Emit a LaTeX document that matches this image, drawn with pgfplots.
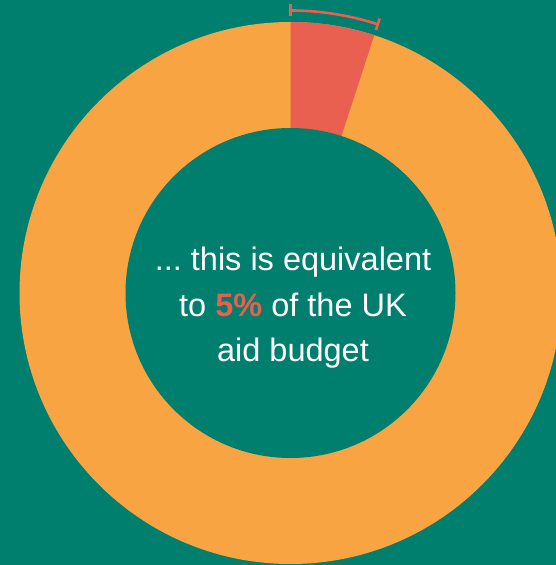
\documentclass[border=0pt]{standalone}
\usepackage{pgfplots}
\usepackage{pgfplotstable}
\pgfplotsset{compat=1.18}
\usepackage{fontspec}
\setmainfont{Liberation Sans}
\definecolor{bgteal}{HTML}{007F6F}
\definecolor{pieorange}{HTML}{F9A443}
\definecolor{piered}{HTML}{E95F50}
\pgfplotstableread{
slice value
Red 5
Rest 95
}\piedata
\pgfplotstablegetelem{0}{value}\of\piedata
\pgfmathsetmacro{\redend}{90-3.6*\pgfplotsretval}
\begin{document}
\frenchspacing
\begin{tikzpicture}
\begin{axis}[
  scale only axis, width=556pt, height=565pt,
  xmin=0, xmax=556, ymin=0, ymax=565,
  hide axis, clip=true]
  \fill[bgteal] (axis cs:0,0) rectangle (axis cs:556,565);
  % outer disk (orange, remaining share)
  \fill[pieorange] (axis cs:290.5,272) circle[radius=271pt];
  % red share wedge
  \fill[piered] (axis cs:290.5,272) -- ++(90:271pt) arc[start angle=90, end angle=\redend, radius=271pt] -- cycle;
  % hole
  \fill[bgteal] (axis cs:290.5,272) circle[radius=165pt];
  % bracket
  \draw[piered, line width=2.6pt] (axis cs:290.5,272) ++(90:282.5pt) arc[start angle=90, end angle=\redend, radius=282.5pt];
  \draw[piered, line width=2.6pt] (axis cs:290.5,272) ++(90:276.5pt) -- ++(90:12pt);
  \draw[piered, line width=2.6pt] (axis cs:290.5,272) ++(\redend:276.5pt) -- ++(\redend:12pt);
  \node[align=center, text=white, font=\fontsize{32.5}{45.5}\selectfont, inner sep=0pt]
    at (axis cs:293,257) {... this is equivalent\\to \textcolor{piered}{\textbf{5\%}} of the UK\\aid budget};
\end{axis}
\pgfresetboundingbox
\path (current axis.south west) rectangle (current axis.north east);
\end{tikzpicture}
\end{document}
